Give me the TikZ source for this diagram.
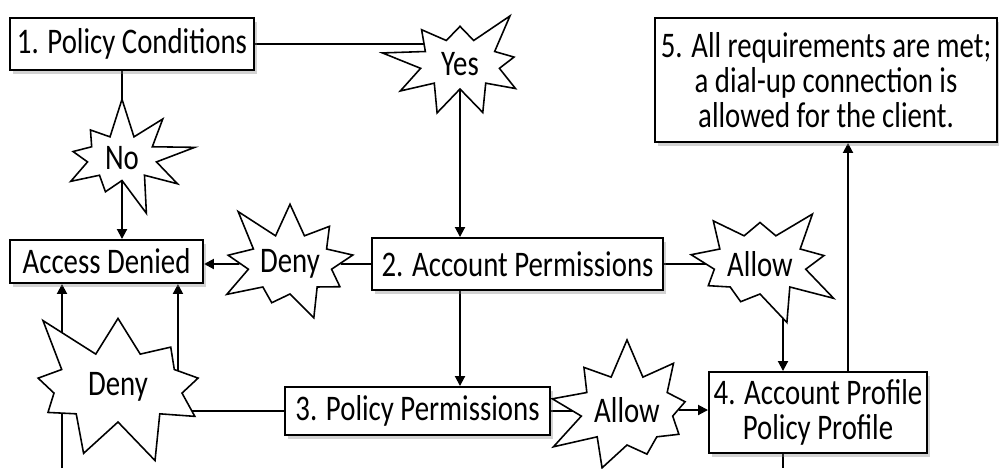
\documentclass[tikz,border=0pt]{standalone}
\usepackage{fontspec}
\setmainfont{Carlito}[FakeStretch=0.8]
\usetikzlibrary{arrows.meta,shapes.symbols,shadows,backgrounds}

\begin{document}
\begin{tikzpicture}[
    x=0.2mm, y=-0.2mm,
    font=\fontsize{20.5}{20}\selectfont,
    box/.style={rectangle, draw=black, line width=1.1pt, fill=white, align=center, inner sep=0pt, drop shadow={shadow xshift=1.5pt, shadow yshift=-2.5pt, opacity=0.35}},
    burst/.style={starburst, draw=black, line width=0.9pt, fill=white, starburst points=9, starburst point height=8mm, inner sep=0pt},
    arrow/.style={-{Triangle[length=2mm, width=2mm]}, line width=1.1pt},
    link/.style={line width=1.1pt}
]
\useasboundingbox (0,0) rectangle (999,468);

\node[box, minimum width=48.8mm, minimum height=10.4mm] (cond) at (132,44) {1. Policy Conditions};
\node[box, minimum width=38.6mm, minimum height=8.6mm] (denied) at (106.5,261.5) {Access Denied};
\node[box, minimum width=58.2mm, minimum height=10.4mm] (acct) at (517.5,264) {2. Account Permissions};
\node[box, minimum width=53mm, minimum height=9.6mm] (pol) at (417.5,411) {3. Policy Permissions};
\node[box, minimum width=43.6mm, minimum height=16.2mm] (prof) at (818,412.5) {4. Account Profile\\Policy Profile};
\node[box, minimum width=68.4mm, minimum height=24.8mm] (met) at (826,80) {5. All requirements are met;\\a dial-up connection is\\allowed for the client.};

\node[burst, minimum width=32mm, minimum height=26mm, random starburst=3] (yes) at (460,64) {Yes};
\node[burst, minimum width=30mm, minimum height=25mm, random starburst=7] (no) at (122,158) {No};
\node[burst, minimum width=30mm, minimum height=28mm, random starburst=11] (denyA) at (290,264) {Deny};
\node[burst, minimum width=48mm, minimum height=36mm, starburst point height=11mm, random starburst=5] (denyB) at (118,387) {Deny};
\node[burst, minimum width=34mm, minimum height=28mm, random starburst=13] (allowA) at (760,264) {Allow};
\node[burst, minimum width=30mm, minimum height=30mm, random starburst=17] (allowB) at (627,410) {Allow};

\coordinate (cutL) at (62,468);
\coordinate (cutR) at (783,468);

\begin{scope}[on background layer]
\fill[white] (0,0) rectangle (999,468);
\draw[link] (cond.east) -- (cond.east -| yes);
\draw[arrow] (yes) -- (yes |- acct.north);
\draw[arrow] (cond.south -| no) -- (no |- denied.north);
\draw[link] (acct.west) -- (denyA);
\draw[arrow] (denyA) -- (denyA -| denied.east);
\draw[arrow] (acct.south -| yes) -- (yes |- pol.north);
\draw[link] (acct.east) -- (acct.east -| allowA);
\draw[arrow] (allowA.center -| cutR) -- (cutR |- prof.north);
\draw[link] (pol.west) -- (pol.west -| denyB);
\draw[arrow] ([xshift=-5.2mm]denied.south east |- denyB) -- ([xshift=-5.2mm]denied.south east);
\draw[arrow] (cutL) -- (cutL |- denied.south);
\draw[link] (pol.east) -- (pol.east -| allowB);
\draw[arrow] (allowB) -- (allowB -| prof.west);
\draw[arrow] ([xshift=6mm]prof.north) -- ([xshift=6mm]prof.north |- met.south);
\draw[link] (prof.south -| cutR) -- (cutR);
\end{scope}

\end{tikzpicture}
\end{document}
